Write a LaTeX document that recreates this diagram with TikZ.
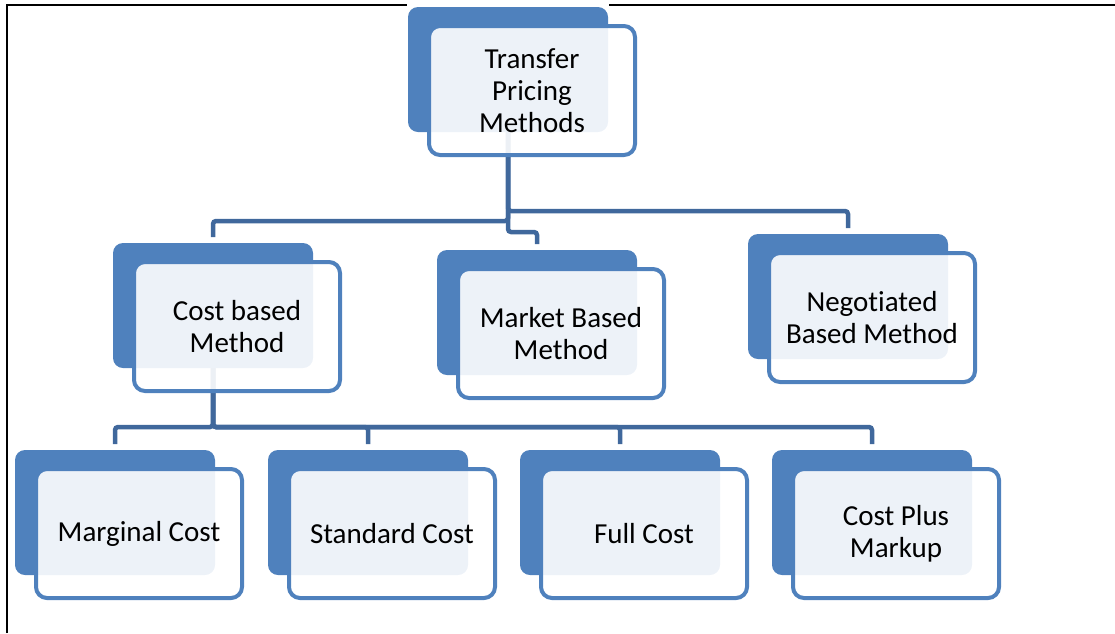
\documentclass[tikz,border=0pt]{standalone}
\usepackage{fontspec}
\setmainfont{Carlito}[Ligatures=NoCommon]
\definecolor{boxblue}{RGB}{79,129,189}
\definecolor{linkblue}{RGB}{64,104,156}
\tikzset{
  backbox/.style={rectangle, rounded corners=10pt, fill=boxblue, draw=none,
    minimum width=200pt, minimum height=125pt, inner sep=0pt, outer sep=0pt, anchor=north west},
  frontbox/.style={rectangle, rounded corners=11pt, draw=boxblue, line width=4pt,
    fill=white, fill opacity=0.9, text opacity=1, minimum width=206pt, minimum height=129pt,
    inner sep=0pt, outer sep=0pt, align=center, font=\fontsize{29}{32}\selectfont},
  link/.style={draw=linkblue, line width=4.5pt, rounded corners=3pt, shorten >=6pt},
  frameline/.style={draw=black, line width=2pt}
}
\begin{document}
\begin{tikzpicture}[x=1pt,y=-1pt]
\useasboundingbox (0,0) rectangle (1115,633);
\draw[frameline] (7,633) -- (7,5) -- (407,5);
\draw[frameline] (609,5) -- (1115,5);
% back boxes
\node[backbox] (tB) at (408,7) {};
\node[backbox] (cB) at (113,243) {};
\node[backbox] (mB) at (437,250) {};
\node[backbox] (nB) at (748,234) {};
\node[backbox] (m1B) at (15,450) {};
\node[backbox] (m2B) at (268,450) {};
\node[backbox] (m3B) at (520,450) {};
\node[backbox] (m4B) at (772,450) {};
% connectors
\draw[link] (tB.south) -- ++(0,89) -| (cB.north);
\draw[link] (tB.south) -- ++(0,79) -| (nB.north);
\draw[link] (tB.south) -- ++(0,100) -| (mB.north);
\draw[link] (cB.south) -- ++(0,59) -| (m1B.north);
\draw[link] (cB.south) -- ++(0,59) -| (m2B.north);
\draw[link] (cB.south) -- ++(0,59) -| (m3B.north);
\draw[link] (cB.south) -- ++(0,59) -| (m4B.north);
% front boxes
\node[frontbox] (t) at ([shift={(124,83.5)}]tB.north west) {Transfer\\Pricing\\Methods};
\node[frontbox] (c) at ([shift={(124,83.5)}]cB.north west) {Cost based\\Method};
\node[frontbox] (m) at ([shift={(124,83.5)}]mB.north west) {Market Based\\Method};
\node[frontbox] (n) at ([shift={(124,83.5)}]nB.north west) {Negotiated\\Based Method};
\node[frontbox] (m1) at ([shift={(124,83.5)}]m1B.north west) {Marginal Cost};
\node[frontbox] (m2) at ([shift={(124,83.5)}]m2B.north west) {Standard Cost};
\node[frontbox] (m3) at ([shift={(124,83.5)}]m3B.north west) {Full Cost};
\node[frontbox] (m4) at ([shift={(124,83.5)}]m4B.north west) {Cost Plus\\Markup};
\end{tikzpicture}
\end{document}
